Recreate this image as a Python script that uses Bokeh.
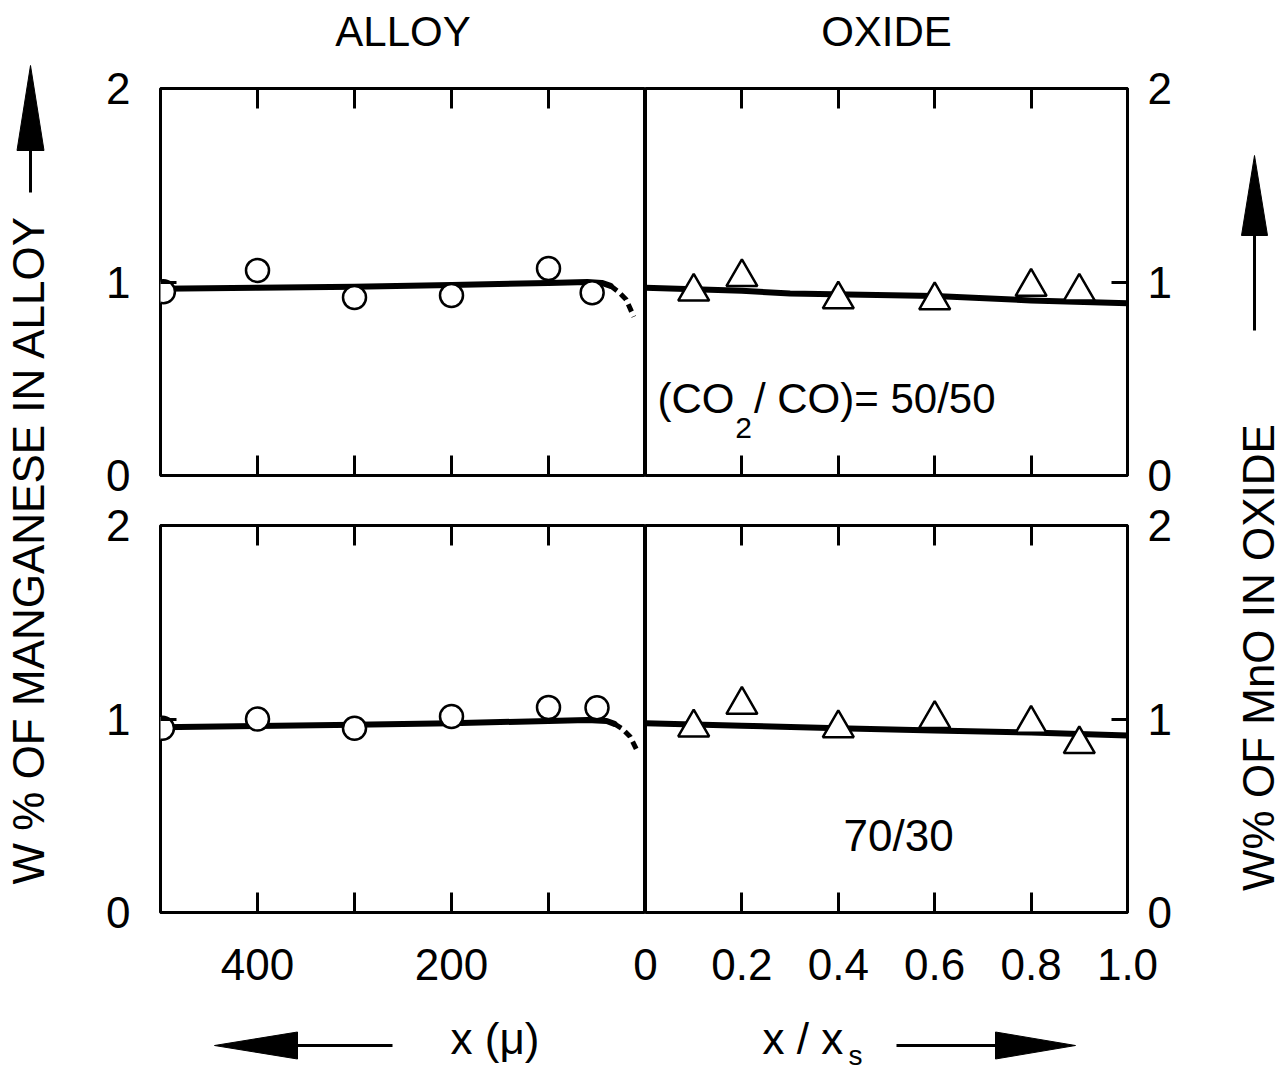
from math import pi
from bokeh.plotting import figure
from bokeh.layouts import row, column
from bokeh.models import Range1d, LinearAxis, FixedTicker, CustomJSTickFormatter
from bokeh.core.properties import value
from bokeh.embed import file_html
from bokeh.resources import INLINE

FONT = "Liberation Sans"

# ---------------- data ----------------
# top row: (CO2/CO) = 50/50
alloy_top_x = [497, 400, 300, 200, 100, 55]
alloy_top_y = [0.95, 1.06, 0.92, 0.93, 1.07, 0.945]
alloy_top_curve_x = [500, 400, 300, 200, 100, 60, 45, 36]
alloy_top_curve_y = [0.965, 0.97, 0.975, 0.985, 0.995, 1.0, 0.995, 0.98]
alloy_top_dash_x = [36, 28, 20, 12]
alloy_top_dash_y = [0.98, 0.95, 0.91, 0.82]
oxide_top_x = [0.1, 0.2, 0.4, 0.6, 0.8, 0.9]
oxide_top_y = [0.95, 1.025, 0.91, 0.905, 0.975, 0.95]
oxide_top_curve_x = [0.0, 0.2, 0.3, 0.6, 0.8, 1.0]
oxide_top_curve_y = [0.97, 0.955, 0.94, 0.928, 0.905, 0.89]

# bottom row: 70/30
alloy_bot_x = [498, 400, 300, 200, 100, 50]
alloy_bot_y = [0.952, 1.0, 0.952, 1.013, 1.06, 1.058]
alloy_bot_curve_x = [500, 400, 300, 200, 100, 60, 40, 32]
alloy_bot_curve_y = [0.958, 0.964, 0.97, 0.978, 0.99, 0.995, 0.99, 0.975]
alloy_bot_dash_x = [32, 24, 16, 9]
alloy_bot_dash_y = [0.975, 0.95, 0.91, 0.84]
oxide_bot_x = [0.1, 0.2, 0.4, 0.6, 0.8, 0.9]
oxide_bot_y = [0.956, 1.073, 0.952, 1.0, 0.975, 0.87]
oxide_bot_curve_x = [0.0, 0.2, 0.4, 0.6, 0.8, 1.0]
oxide_bot_curve_y = [0.978, 0.965, 0.952, 0.94, 0.93, 0.915]

alloy_major_ticks = [400, 200]
alloy_minor_ticks = [300, 100]
oxide_ticks = [0, 0.2, 0.4, 0.6, 0.8, 1.0]
y_ticks = [0, 1, 2]


def base_fig(width, height, x_range, y_range, **kw):
    p = figure(width=width, height=height, x_range=x_range, y_range=y_range,
               x_axis_location=None, y_axis_location=None, toolbar_location=None,
               output_backend="svg", **kw)
    p.grid.visible = False
    p.background_fill_color = "white"
    p.border_fill_color = "white"
    p.outline_line_color = None
    return p


def style_axis(ax, tick_len, standoff=5):
    ax.axis_line_color = None
    ax.major_tick_in = tick_len
    ax.major_tick_out = 0
    ax.minor_tick_in = tick_len
    ax.minor_tick_out = 0
    ax.major_tick_line_width = 3
    ax.minor_tick_line_width = 3
    ax.major_tick_line_color = "black"
    ax.minor_tick_line_color = "black"
    ax.major_label_text_font = FONT
    ax.major_label_text_font_size = "44px"
    ax.major_label_text_color = "black"
    ax.major_label_standoff = standoff
    ax.axis_label_text_font = FONT
    ax.axis_label_text_font_size = "42px"
    ax.axis_label_text_font_style = "normal"
    ax.axis_label_text_color = "black"
    return ax


def blank():
    return CustomJSTickFormatter(code="return '';")


def panel(width, height, x_range, ml, mr, mt, mb):
    p = base_fig(width, height, x_range, Range1d(0, 2),
                 min_border_left=ml, min_border_right=mr,
                 min_border_top=mt, min_border_bottom=mb)
    p.outline_line_color = "black"
    p.outline_line_width = 3
    return p


def alloy_panel(height, mt, mb, top_label, bottom_labels):
    p = panel(545, height, Range1d(500, 0), 60, 0, mt, mb)
    top = LinearAxis(ticker=FixedTicker(ticks=alloy_major_ticks, minor_ticks=alloy_minor_ticks),
                     formatter=blank())
    style_axis(top, 20, 0)
    if top_label:
        top.axis_label = top_label
        top.axis_label_standoff = 34
    p.add_layout(top, "above")
    bot = LinearAxis(ticker=FixedTicker(ticks=alloy_major_ticks, minor_ticks=alloy_minor_ticks))
    style_axis(bot, 20, 36)
    if not bottom_labels:
        bot.formatter = blank()
    p.add_layout(bot, "below")
    left = LinearAxis(ticker=FixedTicker(ticks=y_ticks))
    style_axis(left, 16, 30)
    p.add_layout(left, "left")
    return p


def oxide_panel(width, height, ml, mt, mb, top_label, bottom_labels):
    p = panel(width, height, Range1d(0, 1), ml, 73, mt, mb)
    top = LinearAxis(ticker=FixedTicker(ticks=oxide_ticks), formatter=blank())
    style_axis(top, 20, 0)
    if top_label:
        top.axis_label = top_label
        top.axis_label_standoff = 34
    p.add_layout(top, "above")
    bot = LinearAxis(ticker=FixedTicker(ticks=oxide_ticks))
    style_axis(bot, 20, 36)
    if bottom_labels:
        bot.formatter = CustomJSTickFormatter(
            code="return Math.abs(tick) < 1e-9 ? '0' : tick.toFixed(1);")
    else:
        bot.formatter = blank()
    p.add_layout(bot, "below")
    right = LinearAxis(ticker=FixedTicker(ticks=y_ticks))
    style_axis(right, 16, 20)
    p.add_layout(right, "right")
    return p


def draw_alloy(p, cx, cy, dx, dy, px, py):
    p.line(cx, cy, line_color="black", line_width=6, line_join="round", line_cap="round")
    p.line(dx, dy, line_color="black", line_width=5, line_dash="8 5")
    p.scatter(px, py, marker="circle", size=23, fill_color="white",
              line_color="black", line_width=2.5)


def draw_oxide(p, cx, cy, px, py):
    p.line(cx, cy, line_color="black", line_width=6, line_join="round")
    p.scatter(px, py, marker="triangle", size=31, fill_color="white",
              line_color="black", line_width=2.5)


# ---- top row (height 499, frame 88..475) ----
p1 = alloy_panel(499, 88, 24, "ALLOY", False)
p2 = oxide_panel(555, 499, 0, 88, 24, "OXIDE", False)
draw_alloy(p1, alloy_top_curve_x, alloy_top_curve_y, alloy_top_dash_x, alloy_top_dash_y,
           alloy_top_x, alloy_top_y)
draw_oxide(p2, oxide_top_curve_x, oxide_top_curve_y, oxide_top_x, oxide_top_y)

p2.text(x=[0.025], y=[0.398], text=["(CO"], text_font=value(FONT), text_font_size="42px",
        text_align="left", text_baseline="alphabetic", text_color="black")
p2.text(x=[0.186], y=[0.243], text=["2"], text_font=value(FONT), text_font_size="30px",
        text_align="left", text_baseline="alphabetic", text_color="black")
p2.text(x=[0.225], y=[0.398], text=["/ CO)= 50/50"], text_font=value(FONT), text_font_size="42px",
        text_align="left", text_baseline="alphabetic", text_color="black")

# ---- bottom row (height 503, frame 525..912) ----
p3 = alloy_panel(503, 26, 90, None, True)
p4 = oxide_panel(585, 503, 30, 26, 90, None, True)
p4.border_fill_color = None
p4.margin = (0, 0, 0, -30)
draw_alloy(p3, alloy_bot_curve_x, alloy_bot_curve_y, alloy_bot_dash_x, alloy_bot_dash_y,
           alloy_bot_x, alloy_bot_y)
draw_oxide(p4, oxide_bot_curve_x, oxide_bot_curve_y, oxide_bot_x, oxide_bot_y)
p4.text(x=[0.525], y=[0.398], text=["70/30"], text_font=value(FONT), text_font_size="44px",
        text_align="center", text_baseline="alphabetic", text_color="black")

# ---- left label strip ----
L = base_fig(100, 1076, Range1d(0, 100), Range1d(0, 1076), min_border=0)
L.text(x=[28], y=[527], text=["W % OF MANGANESE IN ALLOY"], angle=pi / 2,
       text_font=value(FONT), text_font_size="44px", text_align="center",
       text_baseline="middle", text_color="black")
L.segment(x0=[30], y0=[884], x1=[30], y1=[930], line_color="black", line_width=3)
L.patch(x=[30, 16.5, 43.5], y=[1011, 926, 926], fill_color="black", line_color="black")

# ---- right label strip ----
R = base_fig(88, 1076, Range1d(0, 88), Range1d(0, 1076), min_border=0)
R.text(x=[58], y=[419], text=["W% OF MnO IN OXIDE"], angle=pi / 2,
       text_font=value(FONT), text_font_size="44px", text_align="center",
       text_baseline="middle", text_color="black")
R.segment(x0=[54], y0=[746], x1=[54], y1=[845], line_color="black", line_width=3)
R.patch(x=[54, 41, 67], y=[921, 841, 841], fill_color="black", line_color="black")

# ---- bottom label strip ----
B = base_fig(1100, 74, Range1d(0, 1100), Range1d(0, 74), min_border=0)
B.patch(x=[114, 197, 197], y=[31, 44.5, 17.5], fill_color="black", line_color="black")
B.segment(x0=[193], y0=[31], x1=[292], y1=[31], line_color="black", line_width=3)
B.text(x=[394.5], y=[38], text=["x (μ)"], text_font=value(FONT), text_font_size="44px",
       text_align="center", text_baseline="alphabetic", text_color="black")
B.text(x=[662], y=[38], text=["x / x"], text_font=value(FONT), text_font_size="44px",
       text_align="left", text_baseline="alphabetic", text_color="black")
B.text(x=[748], y=[21], text=["s"], text_font=value(FONT), text_font_size="28px",
       text_align="left", text_baseline="alphabetic", text_color="black")
B.segment(x0=[796], y0=[31], x1=[899], y1=[31], line_color="black", line_width=3)
B.patch(x=[975, 895, 895], y=[31, 44.5, 17.5], fill_color="black", line_color="black")

layout = row(L, column(row(p1, p2), row(p3, p4), B), R)

open("out.html", "w").write(file_html(layout, INLINE))
